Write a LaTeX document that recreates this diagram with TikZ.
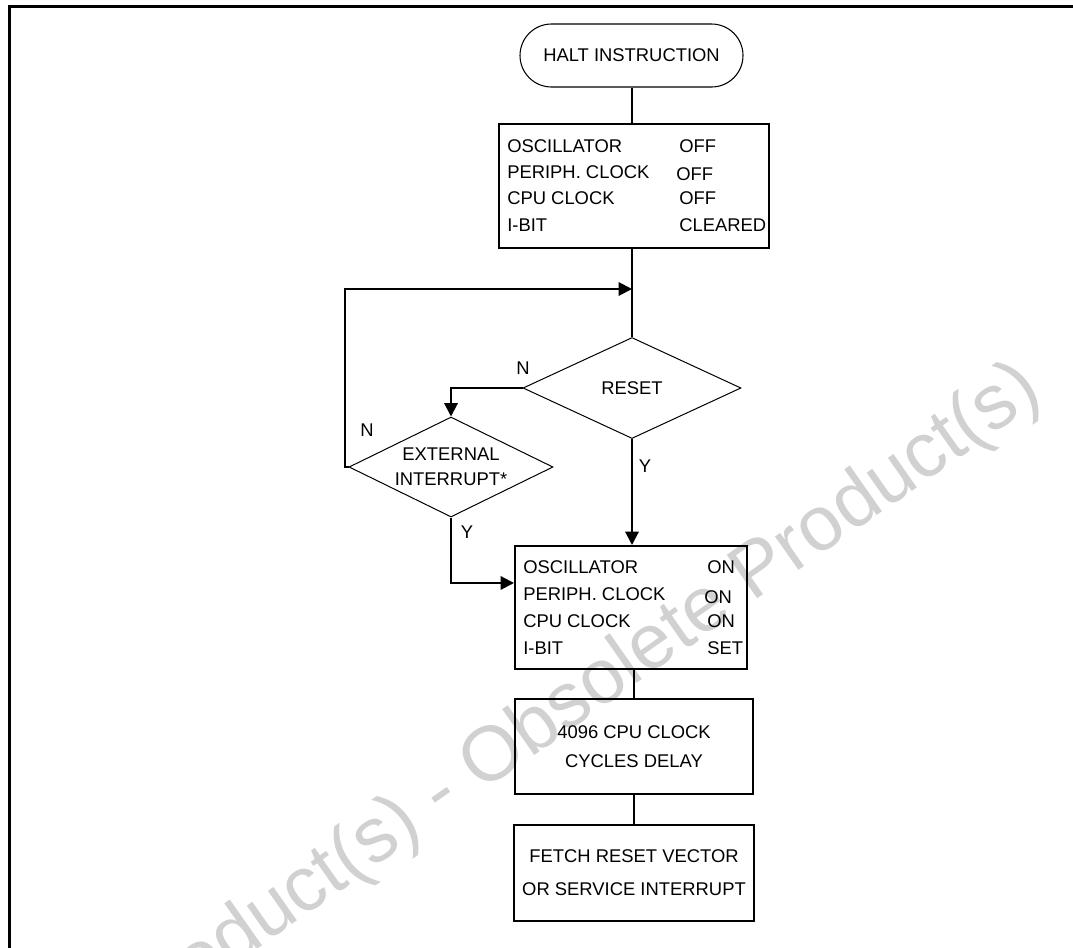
\documentclass[tikz,border=0pt]{standalone}
\usepackage{fontspec}
\setmainfont{Liberation Sans}
\usetikzlibrary{shapes.geometric,shapes.misc,arrows.meta,decorations.text}
\begin{document}
\begin{tikzpicture}[x=0.75pt,y=-0.75pt,
  every node/.style={font=\fontsize{13.8}{18.75}\selectfont, inner sep=0pt},
  txt/.style={anchor=west},
  term/.style={draw, rounded rectangle, line width=0.8pt, minimum width=167.25pt, minimum height=47.25pt},
  pbox/.style={draw, rectangle, line width=1.5pt, align=center},
  dec/.style={draw, diamond, aspect=2, line width=0.75pt, align=center},
  conn/.style={line width=1.5pt},
  arr/.style={conn, -{Triangle[length=10pt,width=10pt]}},
  frame/.style={line width=2.25pt}
]
\useasboundingbox (0,0) rectangle (1073,947);
% watermark
\path[decorate, decoration={text along path, text align=right,
  text={|\fontsize{58}{58}\selectfont\color{black!18}|Obsolete Product(s) - Obsolete Product(s)}}]
  (-429,1430) -- (1045,398);
% frame
\draw[frame] (9,990) -- (9,6) -- (1110,6);
% nodes
\node[term] (halt) at (631.5,55.5) {HALT INSTRUCTION};
\node[pbox, minimum width=202.5pt, minimum height=93pt] (b1) at (634,186) {};
\node[txt] (b1a) at (507,146) {OSCILLATOR};
\node[txt] (b1av) at (679,146) {OFF};
\node[txt] (b1b) at (507,172) {PERIPH. CLOCK};
\node[txt] (b1bv) at (676,174) {OFF};
\node[txt] (b1c) at (507,198) {CPU CLOCK};
\node[txt] (b1cv) at (679,198) {OFF};
\node[txt] (b1d) at (507,225) {I-BIT};
\node[txt] (b1dv) at (679,225) {CLEARED};
\node[dec, minimum width=163.5pt, minimum height=75.75pt] (reset) at (632,388) {RESET};
\node[dec, minimum width=153pt, minimum height=75pt] (ext) at (451,467) {EXTERNAL\\INTERRUPT*};
\node[pbox, minimum width=174pt, minimum height=92.25pt] (b2) at (631,607.5) {};
\node[txt] (b2a) at (523,567) {OSCILLATOR};
\node[txt] (b2av) at (707,567) {ON};
\node[txt] (b2b) at (523,594) {PERIPH. CLOCK};
\node[txt] (b2bv) at (704,597) {ON};
\node[txt] (b2c) at (523,621) {CPU CLOCK};
\node[txt] (b2cv) at (707,621) {ON};
\node[txt] (b2d) at (523,648) {I-BIT};
\node[txt] (b2dv) at (707,648) {SET};
\node[pbox, minimum width=178.5pt, minimum height=71.25pt, font=\fontsize{13.8}{21.75}\selectfont] (b3) at (634,746.5) {4096 CPU CLOCK\\CYCLES DELAY};
\node[pbox, minimum width=180pt, minimum height=72pt, font=\fontsize{13.8}{24.75}\selectfont] (b4) at (634,873) {FETCH RESET VECTOR\\OR SERVICE INTERRUPT};
% labels
\node (nl1) at (523,368) {N};
\node (nl2) at (367,430) {N};
\node (yl1) at (645,466) {Y};
\node (yl2) at (467,532) {Y};
% connectors
\coordinate (j1) at (632,289);
\coordinate (lc) at (345,467);
\draw[conn] (halt.south) -- (halt.south |- b1.north);
\draw[conn] (b1.south -| reset.north) -- (reset.north);
\draw[arr] (ext.west) -- (lc) |- (j1);
\draw[arr] (reset.west) -| (ext.north);
\draw[arr] (reset.south) -- (reset.south |- b2.north);
\draw[arr] (ext.south) |- ([yshift=18.4pt]b2.west);
\draw[conn] (b3.north |- b2.south) -- (b3.north);
\draw[conn] (b3.south) -- (b3.south |- b4.north);
\end{tikzpicture}
\end{document}
